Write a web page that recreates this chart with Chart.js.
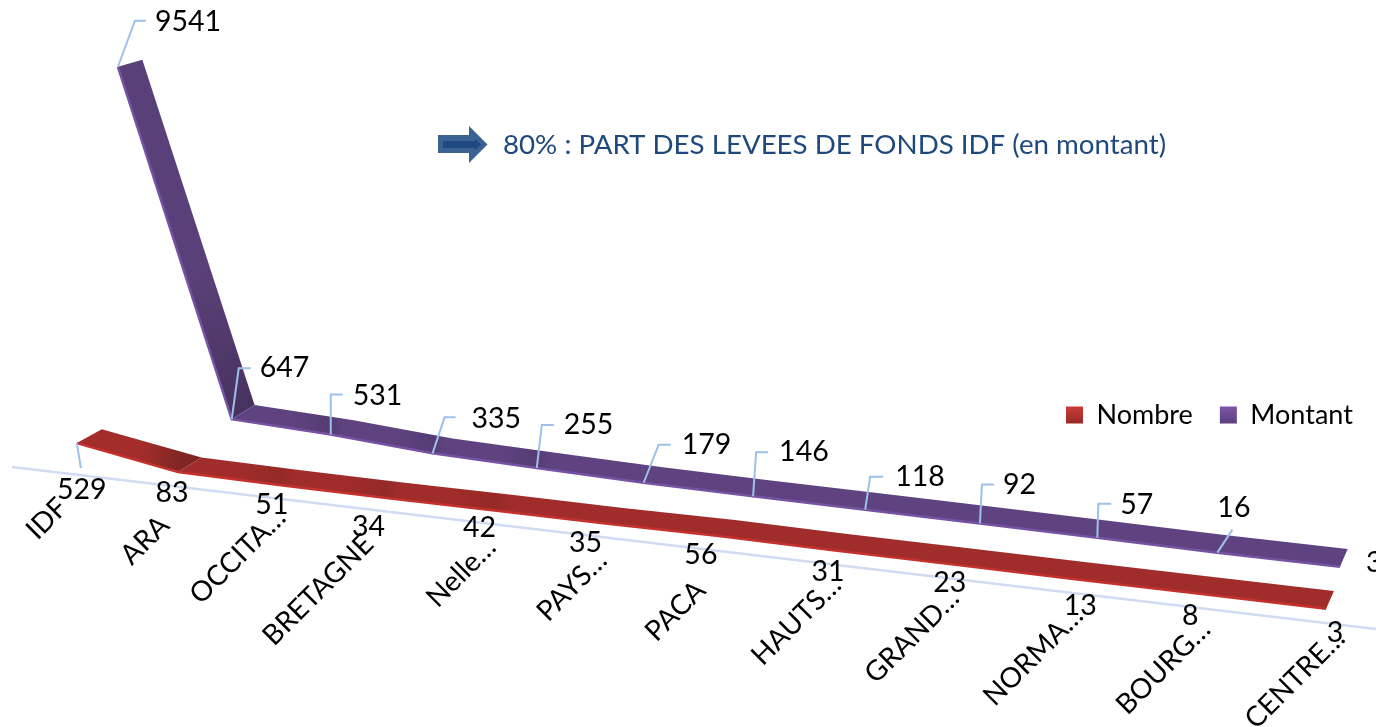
<!DOCTYPE html>
<html lang="fr">
<head>
<meta charset="utf-8">
<title>Levées de fonds par région</title>
<style>html,body{margin:0;padding:0;background:#fff;overflow:hidden}canvas{display:block}</style>
<script src="https://cdn.jsdelivr.net/npm/chart.js@4"></script>
</head>
<body>
<canvas id="c" width="1376" height="727"></canvas>
<script>
const categories = ['IDF','ARA','OCCITA…','BRETAGNE','Nelle…','PAYS…','PACA','HAUTS…','GRAND…','NORMA…','BOURG…','CENTRE…'];
const nombre  = [529,83,51,34,42,35,56,31,23,13,8,3];
const montant = [9541,647,531,335,255,179,146,118,92,57,16,3];
const seriesNames = ['Nombre','Montant'];
const annotation = '80% : PART DES LEVEES DE FONDS IDF (en montant)';

/* label styling: offsets relative to the projected anchors */
const tickNudge = [[-90,37],[-88,47],[-94,51],[-115,73],[-76,43],[-72,44],[-78,56],[-69,52],[-68,54],[-64,60],[-54,57],[-45,54]];
const nombreNudge = [[5,47],[-6,21],[-9,20],[-18,29],[-15,17],[-20,19],[-18,19],[-7,21],[-4,18],[5,27],[-9,22],[9,24]];
/* [elbow dx, elbow dy, label dx from elbow, stub length, label dy from elbow] */
const montantLeader = [[17,-46,20,11,1],[7,-51,21,12,0],[0,-40,22,12,1],[12,-36,27,11,1],[5,-43,22,12,0],[15,-38,23,12,0],[3,-44,23,12,0],[5,-33,25,13,0],[2,-39,21,12,0],[1,-34,22,13,1],[15,-23,-15,0,-22],[26,-4,0,-1,0]];

/* projection of the flat chart into the tilted view */
const VIEW = {left:136.9, step:94.8, bulge:1.325, lean:0.052, pxHeight:382, axisX0:12, axisY0:467, axisSlope:0.1188};
const RIBBONS = [
  {shift:i=>-(59-4.1*i), x0:177, y0:475, slope:0.1165, edge:'#c4322e', face:'#a02c2b', soft:'#942a28', dark:'#7f2623', start:'#a32d2b'},
  {shift:()=>0,          x0:233, y0:444, slope:0.111,  edge:'#7652a2', face:'#5f4380', soft:'#553c74', dark:'#47325f', start:'#5a4078'}
];
const depth = p => ({dx:26-0.0137*p.x, dy:-(14+0.0028*p.x)+0.02*p.$h});
const axisY = x => VIEW.axisY0 + VIEW.axisSlope*(x-VIEW.axisX0);
const bulged = x => { const u=(x-VIEW.left)/VIEW.step; return x+VIEW.bulge*u*u; };
const TEXT = '28.5px Lato';

const projection = {
  id:'projection',
  afterDatasetsUpdate(chart){
    const bottom = chart.chartArea.bottom;
    chart.data.datasets.forEach((ds,k)=>{
      const R = RIBBONS[k];
      chart.getDatasetMeta(k).data.forEach((p,i)=>{
        const h = bottom-p.y;
        const x = bulged(p.x)+R.shift(i)-VIEW.lean*h;
        p.$h = h;
        p.x = x;
        p.y = R.y0+R.slope*(x-R.x0)-h;
      });
    });
  },
  beforeDraw(chart){
    const sc = chart.scales.x;
    sc.getLabelItems().forEach((it,i)=>{
      const x = bulged(sc.getPixelForTick(i));
      it.textOffset = 0;
      it.options.textAlign = 'center';
      it.options.textBaseline = 'middle';
      it.options.translation = [x+tickNudge[i][0], axisY(x)+tickNudge[i][1]];
    });
    const lg = chart.legend, H = lg.height;
    lg.left=1039; lg.right=1600; lg.top=374.5; lg.bottom=374.5+H;
  },
  beforeDatasetsDraw(chart){
    const c = chart.ctx;
    c.save();
    c.strokeStyle='#cfdcf1'; c.lineWidth=2.5;
    c.beginPath(); c.moveTo(VIEW.axisX0,axisY(VIEW.axisX0)); c.lineTo(chart.width,axisY(chart.width)); c.stroke();
    c.restore();
  },
  beforeDatasetDraw(chart,args){
    const c = chart.ctx, R = RIBBONS[args.index], pts = args.meta.data, n = pts.length;
    c.save();
    /* first, steep stretch of the ribbon */
    const a=pts[0], b=pts[1], da=depth(a), db=depth(b);
    const g0=c.createLinearGradient(a.x,a.y,b.x,b.y);
    g0.addColorStop(0,R.start); g0.addColorStop(0.6,R.start); g0.addColorStop(1,R.dark);
    c.fillStyle=g0;
    c.beginPath();
    c.moveTo(a.x,a.y); c.lineTo(b.x,b.y); c.lineTo(b.x+db.dx,b.y+db.dy); c.lineTo(a.x+da.dx,a.y+da.dy);
    c.closePath(); c.fill();
    /* long stretch, in one piece, with a slight shade at its first folds */
    const last=pts[n-1], g=c.createLinearGradient(b.x,0,last.x,0), span=last.x-b.x;
    g.addColorStop(0,R.face);
    for(let i=2;i<5;i++){
      const t=(pts[i].x-b.x)/span;
      g.addColorStop(t-0.035,R.face); g.addColorStop(t,R.soft); g.addColorStop(t+0.012,R.face);
    }
    g.addColorStop(1,R.face);
    c.fillStyle=g;
    c.beginPath();
    c.moveTo(pts[1].x,pts[1].y);
    for(let i=2;i<n;i++) c.lineTo(pts[i].x,pts[i].y);
    for(let i=n-1;i>=1;i--){ const d=depth(pts[i]); c.lineTo(pts[i].x+d.dx,pts[i].y+d.dy); }
    c.closePath(); c.fill();
    c.restore();
  },
  afterDatasetsDraw(chart){
    const c = chart.ctx, red = chart.getDatasetMeta(0).data, pur = chart.getDatasetMeta(1).data;
    c.save();
    c.strokeStyle='#9dc1ea'; c.lineWidth=2; c.lineJoin='miter';
    c.font=TEXT; c.fillStyle='#000'; c.textBaseline='middle';
    /* Montant values with their leader lines */
    pur.forEach((p,i)=>{
      const [dx,dy,gap,stub,ly]=montantLeader[i], ex=p.x+dx, ey=p.y+dy;
      if(stub>=0){
        c.beginPath(); c.moveTo(p.x,p.y); c.lineTo(ex,ey); if(stub>0) c.lineTo(ex+stub,ey); c.stroke();
      }
      c.textAlign='left';
      c.fillText(String(montant[i]),ex+gap,ey+ly);
    });
    /* Nombre values */
    c.beginPath(); c.moveTo(red[0].x,red[0].y); c.lineTo(red[0].x+4,red[0].y+25); c.stroke();
    red.forEach((p,i)=>{
      c.textAlign='center';
      c.fillText(String(nombre[i]),p.x+nombreNudge[i][0],p.y+nombreNudge[i][1]);
    });
    /* annotation */
    c.fillStyle='#3a6293';
    c.beginPath();
    c.moveTo(438,135);c.lineTo(469,135);c.lineTo(469,126);c.lineTo(487.5,144.5);c.lineTo(469,163);c.lineTo(469,153);c.lineTo(438,153);
    c.closePath();c.fill();
    c.fillStyle='#1f4b80';
    c.fillRect(443,141,32,7);
    c.beginPath();c.moveTo(475,139);c.lineTo(481,144.5);c.lineTo(475,150);c.closePath();c.fill();
    c.fillStyle='#1f497d'; c.textAlign='left'; c.font='27.7px Lato';
    c.fillText(annotation,503,145);
    c.restore();
  }
};

const ctx = document.getElementById('c').getContext('2d');
function boxGrad(top,bot){ const g=ctx.createLinearGradient(0,406,0,423); g.addColorStop(0,top); g.addColorStop(1,bot); return g; }
const legendFills=[boxGrad('#cf3b37','#982a28'),boxGrad('#7e57ad','#5b3f7a')];

new Chart(ctx,{
  type:'line',
  data:{labels:categories,datasets:[
    {label:seriesNames[0],data:nombre,borderColor:RIBBONS[0].edge,borderWidth:2.5,pointRadius:0,tension:0,fill:false,clip:false},
    {label:seriesNames[1],data:montant,borderColor:RIBBONS[1].edge,borderWidth:2.5,pointRadius:0,tension:0,fill:false,clip:false}
  ]},
  plugins:[projection],
  options:{
    responsive:false,animation:false,
    layout:{padding:{left:VIEW.left,right:1376-VIEW.left-11*VIEW.step,top:0,bottom:0}},
    events:[],
    plugins:{
      tooltip:{enabled:false},
      title:{display:false},
      legend:{
        display:true,position:'top',align:'start',
        labels:{
          color:'#000',font:{family:'Lato',size:27},boxWidth:17,boxHeight:17,padding:27,
          generateLabels:()=>seriesNames.map((t,i)=>({text:t,fillStyle:legendFills[i],strokeStyle:'transparent',lineWidth:0,fontColor:'#000',datasetIndex:i}))
        }
      }
    },
    scales:{
      x:{
        type:'category',offset:false,
        grid:{display:false},border:{display:false},
        afterFit:s=>{s.height=727-VIEW.pxHeight-s.chart.legend.height;s.paddingLeft=0;s.paddingRight=0;},
        ticks:{autoSkip:false,minRotation:45,maxRotation:45,color:'#000',font:{family:'Lato',size:28},padding:0}
      },
      y:{display:false,min:0,max:10000}
    }
  }
});
</script>
</body>
</html>
